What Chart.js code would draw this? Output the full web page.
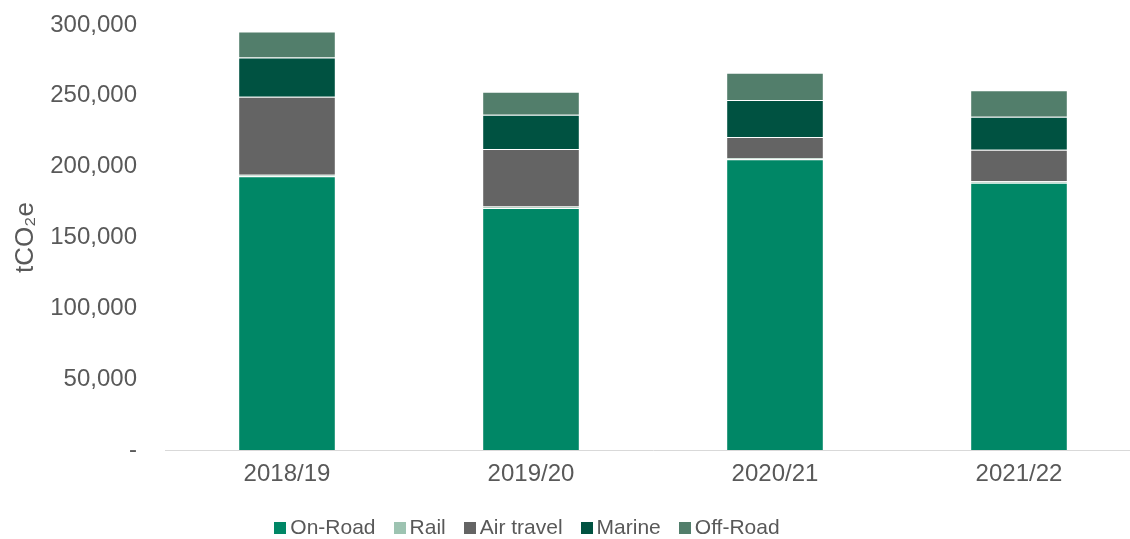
<!DOCTYPE html>
<html>
<head>
<meta charset="utf-8">
<script src="https://cdn.jsdelivr.net/npm/chart.js@4.4.0/dist/chart.umd.min.js"></script>
<style>
    html, body { margin: 0; padding: 0; background: #fff; overflow: hidden; }
    #wrap { position: relative; width: 1130px; height: 539px; overflow: hidden; }
    #chart { position: absolute; left: 0; top: 0; }
    #legend {
        position: absolute; left: 0; width: 1054px; top: 515px;
        text-align: center; font-family: "Liberation Sans", Arial, sans-serif;
        font-size: 21px; color: #595959; white-space: nowrap;
    }
    #legend span.item { display: inline-block; margin: 0 9px; }
    #legend i { display: inline-block; width: 12px; height: 12px; margin-right: 4px; vertical-align: 0px; }
</style>
</head>
<body>
<div id="wrap">
    <canvas id="chart" width="1141" height="539"></canvas>
    <div id="legend"></div>
</div>
<script>
    'use strict';

    // categories and series (tCO2e)
    var years = ['2018/19', '2019/20', '2020/21', '2021/22'];
    var onRoad = [193300, 170800, 205200, 188700];
    var rail = [1000, 1000, 1000, 1000];
    var airTravel = [55000, 40700, 14700, 22300];
    var marine = [27700, 24200, 26200, 23300];
    var offRoad = [18400, 16200, 19200, 18600];

    var yTicks = [0, 50000, 100000, 150000, 200000, 250000, 300000];

    var seriesNames = ['On-Road', 'Rail', 'Air travel', 'Marine', 'Off-Road'];
    var seriesData = [onRoad, rail, airTravel, marine, offRoad];
    var seriesColors = ['#008766', '#9dc3b1', '#646464', '#005241', '#527e6b'];

    var font = "'Liberation Sans', Arial, sans-serif";

    var datasets = seriesNames.map(function (name, i) {
        return {
            label: name,
            data: seriesData[i],
            backgroundColor: seriesColors[i],
            borderColor: 'rgba(255,255,255,0.3)',
            borderWidth: 1,
            categoryPercentage: 1,
            barPercentage: 0.4
        };
    });

    // html legend
    var legendEl = document.getElementById('legend');
    seriesNames.forEach(function (name, i) {
        var s = document.createElement('span');
        s.className = 'item';
        s.innerHTML = '<i style="background:' + seriesColors[i] + '"></i>' + name;
        legendEl.appendChild(s);
    });

    var ctx = document.getElementById('chart').getContext('2d');
    var chart = new Chart(ctx, {
        type: 'bar',
        data: { labels: years, datasets: datasets },
        options: {
            responsive: false,
            animation: false,
            layout: { padding: { top: 25, bottom: 49, left: 0, right: 0 } },
            plugins: {
                legend: { display: false },
                tooltip: { enabled: false }
            },
            scales: {
                x: {
                    stacked: true,
                    grid: { display: false, drawTicks: false },
                    border: { display: true, color: '#d9d9d9', width: 1 },
                    ticks: {
                        color: '#595959',
                        font: { family: font, size: 24 },
                        padding: 10
                    },
                    afterFit: function (s) { s.height = 40; }
                },
                y: {
                    stacked: true,
                    min: 0,
                    max: 300000,
                    afterBuildTicks: function (s) {
                        s.ticks = yTicks.map(function (v) { return { value: v }; });
                    },
                    grid: { display: false, drawTicks: false },
                    border: { display: false },
                    ticks: {
                        color: '#595959',
                        font: { family: font, size: 24 },
                        padding: 28,
                        callback: function (v) {
                            return v === 0 ? '-' : v.toLocaleString('en-US');
                        }
                    },
                    title: {
                        display: true,
                        text: 'tCO₂e',
                        color: '#595959',
                        font: { family: font, size: 26 },
                        padding: { top: 10, bottom: 0 }
                    },
                    afterFit: function (s) {
                        s.width = 165;
                        s.paddingTop = 0;
                        s.paddingBottom = 0;
                    }
                }
            }
        }
    });
</script>
</body>
</html>
